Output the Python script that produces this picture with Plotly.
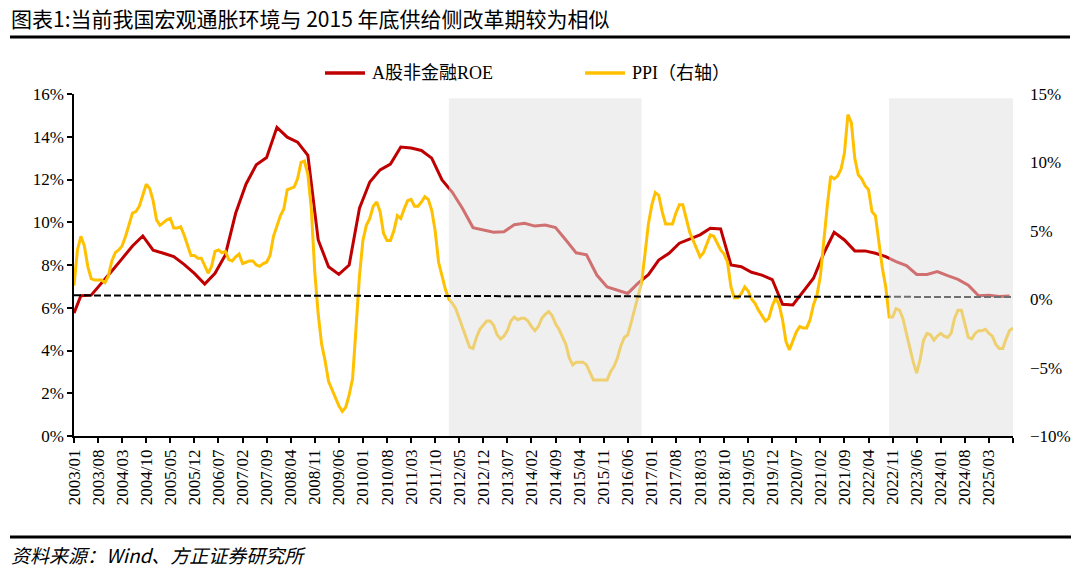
import plotly.graph_objects as go

# ---------------- data ----------------
months = [f"{y}/{m:02d}" for y in range(2003, 2026) for m in range(1, 13)][:274]

ppi = [
    1.0, 3.6, 4.6, 3.9, 2.4, 1.5, 1.4, 1.4, 1.4, 1.2, 1.7, 2.8,          # 2003
    3.4, 3.6, 3.9, 4.6, 5.4, 6.3, 6.4, 6.8, 7.6, 8.4, 8.1, 7.2,          # 2004
    5.8, 5.4, 5.6, 5.8, 5.9, 5.2, 5.2, 5.3, 4.7, 4.0, 3.2, 3.2,          # 2005
    3.0, 3.0, 2.5, 1.9, 2.4, 3.5, 3.6, 3.4, 3.5, 2.9, 2.8, 3.1,          # 2006
    3.3, 2.6, 2.7, 2.8, 2.8, 2.5, 2.4, 2.6, 2.7, 3.2, 4.6, 5.4,          # 2007
    6.1, 6.6, 8.0, 8.1, 8.2, 8.8, 10.0, 10.1, 9.1, 6.6, 2.0, -1.1,       # 2008
    -3.3, -4.5, -6.0, -6.6, -7.2, -7.8, -8.2, -7.9, -7.0, -5.8, -2.1, 1.7,  # 2009
    4.3, 5.4, 5.9, 6.8, 7.1, 6.4, 4.8, 4.3, 4.3, 5.0, 6.1, 5.9,          # 2010
    6.6, 7.2, 7.3, 6.8, 6.8, 7.1, 7.5, 7.3, 6.5, 5.0, 2.7, 1.7,          # 2011
    0.7, 0.0, -0.3, -0.7, -1.4, -2.1, -2.9, -3.5, -3.6, -2.8, -2.2, -1.9,  # 2012
    -1.6, -1.6, -1.9, -2.6, -2.9, -2.7, -2.3, -1.6, -1.3, -1.5, -1.4, -1.4,  # 2013
    -1.6, -2.0, -2.3, -2.0, -1.4, -1.1, -0.9, -1.2, -1.8, -2.2, -2.7, -3.3,  # 2014
    -4.3, -4.8, -4.6, -4.6, -4.6, -4.8, -5.4, -5.9, -5.9, -5.9, -5.9, -5.9,  # 2015
    -5.3, -4.9, -4.3, -3.4, -2.8, -2.6, -1.7, -0.8, 0.1, 1.2, 3.3, 5.5,  # 2016
    6.9, 7.8, 7.6, 6.4, 5.5, 5.5, 5.5, 6.3, 6.9, 6.9, 5.8, 4.9,          # 2017
    4.3, 3.7, 3.1, 3.4, 4.1, 4.7, 4.6, 4.1, 3.6, 3.3, 2.7, 0.9,          # 2018
    0.1, 0.1, 0.4, 0.9, 0.6, 0.0, -0.3, -0.8, -1.2, -1.6, -1.4, -0.5,    # 2019
    0.1, -0.4, -1.5, -3.1, -3.7, -3.0, -2.4, -2.0, -2.1, -2.1, -1.5, -0.4,  # 2020
    0.3, 1.7, 4.4, 6.8, 9.0, 8.8, 9.0, 9.5, 10.7, 13.5, 12.9, 10.3,      # 2021
    9.1, 8.8, 8.3, 8.0, 6.4, 6.1, 4.2, 2.3, 0.9, -1.3, -1.3, -0.7,       # 2022
    -0.8, -1.4, -2.5, -3.6, -4.6, -5.4, -4.4, -3.0, -2.5, -2.6, -3.0, -2.7,  # 2023
    -2.5, -2.7, -2.8, -2.5, -1.4, -0.8, -0.8, -1.8, -2.8, -2.9, -2.5, -2.3,  # 2024
    -2.3, -2.2, -2.5, -2.7, -3.3, -3.6, -3.6, -2.9, -2.3, -2.1,          # 2025
]

roe_dates = ["2003/01"] + [f"{y}/{m:02d}" for y in range(2003, 2026) for m in (3, 6, 9, 12)][:91]
roe = [
    5.75,
    6.56, 6.59, 7.13, 7.72,     # 2003
    8.30, 8.89, 9.36, 8.69,     # 2004
    8.55, 8.39, 8.03, 7.61,     # 2005
    7.11, 7.61, 8.47, 10.42,    # 2006
    11.78, 12.69, 13.03, 14.44, # 2007
    13.98, 13.75, 13.13, 9.17,  # 2008
    7.92, 7.56, 8.00, 10.66,    # 2009
    11.88, 12.45, 12.72, 13.52, # 2010
    13.47, 13.36, 13.00, 11.98, # 2011
    11.40, 10.63, 9.75, 9.64,   # 2012
    9.53, 9.56, 9.88, 9.95,     # 2013
    9.82, 9.87, 9.75, 9.17,     # 2014
    8.57, 8.48, 7.53, 6.97,     # 2015
    6.83, 6.67, 7.15, 7.55,     # 2016
    8.23, 8.55, 9.02, 9.22,     # 2017
    9.41, 9.72, 9.69, 8.00,     # 2018
    7.92, 7.66, 7.53, 7.32,     # 2019
    6.16, 6.13, 6.75, 7.38,     # 2020
    8.55, 9.53, 9.17, 8.66,     # 2021
    8.66, 8.55, 8.39, 8.16,     # 2022
    7.97, 7.56, 7.56, 7.69,     # 2023
    7.50, 7.33, 7.06, 6.56,     # 2024
    6.59, 6.53, 6.55,           # 2025
]

mean_roe = [6.58, 6.50]                 # dashed reference line (start, end)
shade_periods = [("2012/02", "2016/10"), ("2022/10", "2025/10")]
tick_vals = months[::7]
tick_text = tick_vals[:-1] + [""]       # last tick (axis end) carries no label

series_names = ["A股非金融ROE", "PPI（右轴）"]
series_colors = ["#C00000", "#FFC000"]
title_text = "图表1:当前我国宏观通胀环境与 2015 年底供给侧改革期较为相似"
source_text = "资料来源：Wind、方正证券研究所"

# ---------------- figure ----------------
W, H = 1080, 572
L, R, T, B = 74, 67, 94, 136
pw, ph = W - L - R, H - T - B


def px_x(x):
    return (x - L) / pw


def px_y(y):
    return (H - B - y) / ph


serif = "Liberation Serif, 'Times New Roman', 'Noto Sans CJK SC', serif"
cjk = "'Noto Sans CJK SC', 'Liberation Sans', sans-serif"

fig = go.Figure()
fig.add_trace(go.Scatter(
    x=roe_dates, y=roe, name=series_names[0], mode="lines",
    line=dict(color=series_colors[0], width=3), yaxis="y"))
fig.add_trace(go.Scatter(
    x=months, y=ppi, name=series_names[1], mode="lines",
    line=dict(color=series_colors[1], width=3), yaxis="y2"))

shapes = []
overlay = "rgba(223,223,223,0.5)"
shapes.append(dict(type="rect", xref="x", yref="y", x0=shade_periods[0][0], x1=shade_periods[0][1],
                   y0=0, y1=15.8, fillcolor=overlay, line=dict(width=0), layer="above"))
shapes.append(dict(type="line", xref="x", yref="y", x0=months[0], x1=months[-1],
                   y0=mean_roe[0], y1=mean_roe[1],
                   line=dict(color="black", width=2, dash="7px,3px"), layer="above"))
shapes.append(dict(type="rect", xref="x", yref="y", x0=shade_periods[1][0], x1=shade_periods[1][1],
                   y0=0, y1=15.8, fillcolor=overlay, line=dict(width=0), layer="above"))
# title rule and bottom rule
shapes.append(dict(type="line", xref="paper", yref="paper", x0=px_x(10), x1=px_x(1070),
                   y0=px_y(37), y1=px_y(37), line=dict(color="black", width=3)))
shapes.append(dict(type="line", xref="paper", yref="paper", x0=px_x(10), x1=px_x(1071),
                   y0=px_y(537), y1=px_y(537), line=dict(color="black", width=3)))

annotations = [
    dict(text=title_text, xref="paper", yref="paper", x=px_x(9), y=px_y(18),
         xanchor="left", yanchor="middle", showarrow=False,
         font=dict(family=cjk, size=21, color="black")),
    dict(text=f"<i>{source_text}</i>", xref="paper", yref="paper", x=px_x(9), y=px_y(554),
         xanchor="left", yanchor="middle", showarrow=False,
         font=dict(family=cjk, size=19, color="black")),
]

# manual legend (line samples + labels)
legend_x = [(325, 365, 370), (585, 625, 630)]
for (xs, xe, xt), name, col in zip(legend_x, series_names, series_colors):
    shapes.append(dict(type="line", xref="paper", yref="paper", x0=px_x(xs), x1=px_x(xe),
                       y0=px_y(73), y1=px_y(73), line=dict(color=col, width=3.5)))
    annotations.append(dict(text=name, xref="paper", yref="paper", x=px_x(xt), y=px_y(73),
                            xanchor="left", yanchor="middle", showarrow=False,
                            font=dict(family=serif, size=18, color="black")))

fig.update_layout(
    width=W, height=H,
    margin=dict(l=L, r=R, t=T, b=B),
    paper_bgcolor="white", plot_bgcolor="white",
    showlegend=False,
    shapes=shapes,
    annotations=annotations,
    xaxis=dict(type="category", categoryorder="array", categoryarray=months,
               range=[0, len(months) - 1], tickmode="array", tickvals=tick_vals,
               ticktext=tick_text, tickangle=-90, ticks="outside", ticklen=5,
               tickcolor="black", tickwidth=1.5, showline=True, linecolor="black",
               linewidth=1.5, showgrid=False, zeroline=False, automargin=False,
               tickfont=dict(family=serif, size=17, color="black")),
    yaxis=dict(range=[0, 16], dtick=2, tick0=0, ticksuffix="%", ticks="outside", ticklen=5,
               tickcolor="black", tickwidth=1.5, showline=True, linecolor="black",
               linewidth=1.5, showgrid=False, zeroline=False, automargin=False,
               tickfont=dict(family=serif, size=17, color="black")),
    yaxis2=dict(range=[-10, 15], dtick=5, tick0=-10, ticksuffix="%", overlaying="y",
                side="right", showline=False, ticks="", showgrid=False, zeroline=False,
                ticklabelstandoff=16, automargin=False,
                tickfont=dict(family=serif, size=17, color="black")),
)

# remove the page's default 8px body margin so the figure sits at the window origin
fig.write_html("out.html", config={"displayModeBar": False},
               post_script="document.body.style.margin='0px';")
